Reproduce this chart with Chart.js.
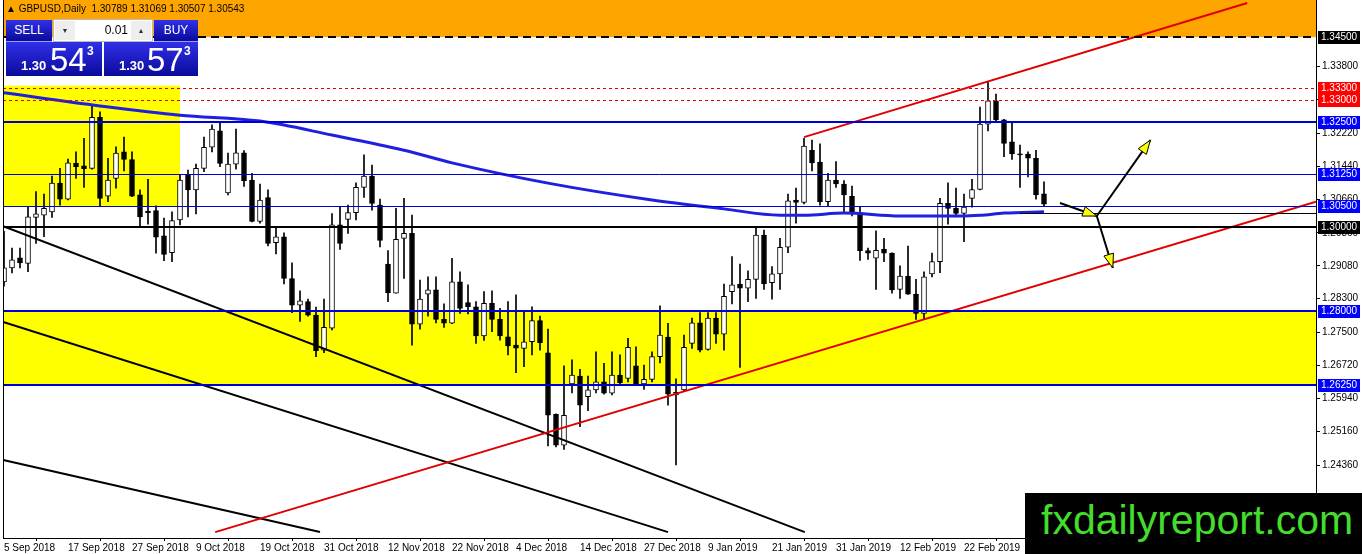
<!DOCTYPE html>
<html>
<head>
<meta charset="utf-8">
<script src="https://cdn.jsdelivr.net/npm/chart.js@4.4.1/dist/chart.umd.min.js"></script>
<style>
  body { margin: 0; background: #fff; }
  #wrap { position: relative; width: 1362px; height: 554px; overflow: hidden; }
  #c { position: absolute; left: 0; top: 0; }
  .hdr { position: absolute; left: 6px; top: 3px; font: 10px 'Liberation Sans', sans-serif; color: #000; white-space: nowrap; }
  .blue { position: absolute; background: linear-gradient(#3030e8, #0a0a9a); color: #fff; font-family: 'Liberation Sans', sans-serif; }
  .btn { font-size: 12px; text-align: center; line-height: 21px; height: 22px; border-bottom: 1px solid #9a9aff; box-sizing: border-box; }
  .spin { position: absolute; left: 53px; top: 19px; width: 100px; height: 23px; background: #fff; border: 1px solid #bbb; box-sizing: border-box; font: 12px 'Liberation Sans', sans-serif; }
  .spin .a { position: absolute; top: 1px; width: 20px; height: 19px; background: #eee; font-size: 7px; text-align: center; line-height: 19px; color: #333; }
  .price { height: 34px; top: 42px; }
  .price .s { position: absolute; top: 16px; font-size: 13px; font-weight: bold; }
  .price .b { position: absolute; top: -1px; font-size: 33px; }
  .price .p { position: absolute; top: 2px; font-size: 12px; font-weight: bold; }
  .wm { position: absolute; left: 1025px; top: 493px; width: 337px; height: 61px; background: #000; }
  .wm span { position: absolute; left: 16px; top: 7px; font: 41px/41px 'Liberation Sans', sans-serif; color: #44dd2c; white-space: nowrap; }
</style>
</head>
<body>
<div id="wrap">
  <canvas id="c" width="1362" height="554"></canvas>
  <div class="hdr">▲ GBPUSD,Daily&nbsp; 1.30789 1.31069 1.30507 1.30543</div>
  <div class="blue btn" style="left:6px;top:20px;width:46px;">SELL</div>
  <div class="spin">
    <div class="a" style="left:1px;">▼</div>
    <div style="position:absolute;right:24px;top:3px;">0.01</div>
    <div class="a" style="right:1px;">▲</div>
  </div>
  <div class="blue btn" style="left:154px;top:20px;width:44px;">BUY</div>
  <div class="blue price" style="left:6px;width:96px;">
    <span class="s" style="left:15px;">1.30</span><span class="b" style="left:44px;">54</span><span class="p" style="left:81px;">3</span>
  </div>
  <div class="blue price" style="left:104px;width:94px;">
    <span class="s" style="left:15px;">1.30</span><span class="b" style="left:43px;">57</span><span class="p" style="left:80px;">3</span>
  </div>
  <div class="wm"><span>fxdailyreport.com</span></div>
</div>
<script>
// daily candles, index 0 = 5 Sep 2018
let opens = [1.2870,1.2903,1.2927,1.2914,1.3023,1.3028,1.3036,1.3104,1.3066,1.3151,
  1.3145,1.3139,1.3260,1.3073,1.3115,1.3178,1.3160,1.3076,1.3038,1.3039,
  1.2979,1.2939,1.3017,1.3123,1.3088,1.3139,1.3189,1.3228,1.3081,1.3149,
  1.3176,1.3111,1.3013,1.3070,1.2963,1.2977,1.2878,1.2815,1.2823,1.2791,
  1.2708,1.2760,1.3005,1.3018,1.3034,1.3094,1.3121,1.3052,1.2912,1.2843,
  1.2973,1.2985,1.2770,1.2841,1.2851,1.2781,1.2772,1.2870,1.2821,1.2811,
  1.2742,1.2819,1.2781,1.2740,1.2720,1.2712,1.2728,1.2778,1.2702,1.2556,
  1.2483,1.2628,1.2647,1.2598,1.2614,1.2633,1.2606,1.2649,1.2641,1.2671,
  1.2628,1.2639,1.2693,1.2739,1.2602,1.2614,1.2724,1.2773,1.2710,1.2784,
  1.2746,1.2847,1.2865,1.2855,1.2876,1.2981,1.2868,1.2889,1.2952,1.3064,
  1.3058,1.3182,1.3154,1.3060,1.3111,1.3102,1.3073,1.3034,1.2944,1.2926,
  1.2947,1.2938,1.2852,1.2884,1.2841,1.2795,1.2889,1.2918,1.3056,1.3044,
  1.3032,1.3068,1.3089,1.3244,1.3299,1.3254,1.3202,1.3173,1.3173,1.3163,
  1.30789];
let highs = [1.2990,1.2950,1.2950,1.3048,1.3084,1.3078,1.3121,1.3139,1.3161,1.3178,
  1.3210,1.3289,1.3273,1.3163,1.3190,1.3213,1.3178,1.3088,1.3113,1.3050,
  1.3021,1.3036,1.3123,1.3135,1.3149,1.3213,1.3242,1.3250,1.3175,1.3232,
  1.3181,1.3127,1.3102,1.3088,1.3001,1.2986,1.2915,1.2849,1.2829,1.2810,
  1.2829,1.3032,1.3048,1.3052,1.3105,1.3171,1.3147,1.3066,1.2944,1.3044,
  1.3068,1.3028,1.2874,1.2882,1.2882,1.2818,1.2926,1.2894,1.2863,1.2823,
  1.2847,1.2849,1.2807,1.2823,1.2839,1.2799,1.2811,1.2789,1.2758,1.2557,
  1.2671,1.2685,1.2663,1.2647,1.2704,1.2677,1.2704,1.2697,1.2736,1.2716,
  1.2673,1.2704,1.2813,1.2772,1.2640,1.2744,1.2784,1.2797,1.2797,1.2797,
  1.2865,1.2930,1.2912,1.2896,1.2999,1.2993,1.2906,1.2973,1.3078,1.3092,
  1.3210,1.3206,1.3197,1.3127,1.3155,1.3110,1.3097,1.3048,1.2950,1.2991,
  1.2973,1.2939,1.2908,1.2955,1.2876,1.2894,1.2938,1.3068,1.3105,1.3092,
  1.3078,1.3113,1.3284,1.3344,1.3315,1.3255,1.3246,1.3194,1.3178,1.3182,
  1.31069];
let lows = [1.2860,1.2891,1.2903,1.2894,1.2961,1.2977,1.3023,1.3052,1.3064,1.3115,
  1.3094,1.3137,1.3050,1.3060,1.3092,1.3133,1.3072,1.3001,1.3007,1.2938,
  1.2920,1.2918,1.3005,1.3024,1.3031,1.3131,1.3178,1.3143,1.3076,1.3137,
  1.3096,1.3012,1.3009,1.2955,1.2936,1.2865,1.2797,1.2776,1.2789,1.2693,
  1.2702,1.2756,1.2947,1.2985,1.3017,1.3070,1.3040,1.2953,1.2823,1.2843,
  1.2878,1.2720,1.2758,1.2789,1.2773,1.2762,1.2771,1.2795,1.2794,1.2724,
  1.2731,1.2752,1.2732,1.2697,1.2655,1.2669,1.2697,1.2708,1.2481,1.2479,
  1.2473,1.2607,1.2527,1.2565,1.2607,1.2604,1.2602,1.2629,1.2633,1.2627,
  1.2615,1.2633,1.2678,1.2578,1.2436,1.2612,1.2712,1.2704,1.2708,1.2724,
  1.2708,1.2818,1.2667,1.2823,1.2831,1.2852,1.2829,1.2852,1.2939,1.3009,
  1.3055,1.3133,1.3052,1.3050,1.3094,1.3036,1.3026,1.2921,1.2923,1.2852,
  1.2918,1.2843,1.2831,1.2840,1.2781,1.2781,1.2882,1.2892,1.3007,1.3024,
  1.2965,1.3047,1.3088,1.3228,1.3247,1.3167,1.3160,1.3094,1.3119,1.3066,
  1.30507];
let closes = [1.2903,1.2922,1.2915,1.3024,1.3031,1.3044,1.3104,1.3066,1.3152,1.3143,
  1.3138,1.3260,1.3068,1.3111,1.3175,1.3160,1.3073,1.3024,1.3034,1.2976,
  1.2935,1.3015,1.3111,1.3088,1.3139,1.3189,1.3232,1.3151,1.3149,1.3176,
  1.3110,1.3013,1.3064,1.2961,1.2977,1.2878,1.2815,1.2825,1.2791,1.2707,
  1.2762,1.3005,1.2961,1.3034,1.3094,1.3121,1.3056,1.2968,1.2844,1.2971,
  1.2985,1.2770,1.2829,1.2851,1.2781,1.2772,1.2870,1.2807,1.2811,1.2742,
  1.2819,1.2781,1.2742,1.2718,1.2713,1.2728,1.2778,1.2726,1.2554,1.2483,
  1.2554,1.2649,1.2578,1.2614,1.2633,1.2606,1.2649,1.2631,1.2715,1.2628,
  1.2639,1.2693,1.2744,1.2604,1.2608,1.2715,1.2773,1.2708,1.2784,1.2746,
  1.2836,1.2863,1.2855,1.2876,1.2981,1.2865,1.2889,1.2952,1.3062,1.3058,
  1.3192,1.3152,1.3060,1.3111,1.3102,1.3076,1.3036,1.2944,1.2938,1.2945,
  1.2938,1.2851,1.2884,1.2841,1.2795,1.2882,1.2918,1.3056,1.3044,1.3032,
  1.3047,1.3089,1.3244,1.3299,1.3254,1.3198,1.3173,1.3171,1.3163,1.3076,
  1.30543];

// moving average, read at a few bars
let maIdx = [0,12,22,32,41,50,56,68,81,90,97,100,105,112,118,122,125,130];
let maVals = [1.3318,1.3287,1.3265,1.3251,1.3218,1.3182,1.3152,1.3104,1.3064,1.3043,
  1.3028,1.3028,1.3033,1.3026,1.3026,1.3028,1.3033,1.3036];

// x axis dates
let dateIdx = [0,8,16,24,32,40,48,56,64,72,80,88,96,104,112,120];
let dateLabels = ['5 Sep 2018','17 Sep 2018','27 Sep 2018','9 Oct 2018','19 Oct 2018',
  '31 Oct 2018','12 Nov 2018','22 Nov 2018','4 Dec 2018','14 Dec 2018','27 Dec 2018',
  '9 Jan 2019','21 Jan 2019','31 Jan 2019','12 Feb 2019','22 Feb 2019'];

// price axis
let tickLabels = [1.338,1.3302,1.3222,1.3144,1.3066,1.2986,1.2908,1.283,1.275,
  1.2672,1.2594,1.2516,1.2436,1.2356];

// horizontal levels
let levelPrices = [1.345,1.333,1.330,1.325,1.3125,1.305,1.300,1.280,1.2625];
let levelKinds = ['black','red','red','blue','blue','blue','black','blue','blue'];

// drawn objects
let redUpper = [[100,1.3213],[155.4,1.3531]];
let redLower = [[26.4,1.2277],[164,1.3060]];
let blackLine1 = [[-0.1,1.3002],[100.1,1.2277]];
let blackLine2 = [[-0.1,1.2775],[83,1.2277]];
let blackLine3 = [[-0.1,1.2448],[39.5,1.2277]];
let arrowFrom = [[132,1.3057],[136.6,1.3026],[136.6,1.3026]];
let arrowTo = [[136.6,1.3026],[143.3,1.3206],[138.6,1.2903]];

const X_MIN = -0.125, X_MAX = 164;
const Y_MIN = 1.2263, Y_MAX = 1.3538;

const kindStyle = {
  black: { color: '#000000', label: '#000000' },
  red: { color: '#e00000', label: '#ff0000' },
  blue: { color: '#0000d0', label: '#0000ff' }
};
const lineWidths = [2,1,1,2,1,1,2,2,2];
const lineDash = [[8,5],[3,3],[3,3],[],[],[],[],[],[]];

Chart.defaults.font.family = "'Liberation Sans', sans-serif";
Chart.defaults.font.size = 10;
Chart.defaults.color = '#000';

const pts = (arr) => arr.map(p => ({ x: p[0], y: p[1] }));

const levelsPlugin = {
  id: 'levels',
  beforeDraw(chart) {
    const c = chart.ctx;
    c.save();
    c.fillStyle = '#fff';
    c.fillRect(0, 0, chart.width, chart.height);
    c.restore();
  },
  beforeDatasetsDraw(chart) {
    const c = chart.ctx, a = chart.chartArea;
    const xs = chart.scales.x, ys = chart.scales.y;
    c.save();
    // orange zone above 1.345
    c.fillStyle = '#ffa500';
    c.fillRect(a.left, 0, a.right - a.left, ys.getPixelForValue(levelPrices[0]));
    // yellow zones
    c.fillStyle = '#ffff00';
    let y1 = ys.getPixelForValue(1.3335), y2 = ys.getPixelForValue(1.3050);
    c.fillRect(a.left, y1, xs.getPixelForValue(22) - a.left, y2 - y1);
    y1 = ys.getPixelForValue(levelPrices[7]); y2 = ys.getPixelForValue(levelPrices[8]);
    c.fillRect(a.left, y1, a.right - a.left, y2 - y1);
    c.restore();
  },
  afterDatasetsDraw(chart) {
    const c = chart.ctx, a = chart.chartArea;
    const xs = chart.scales.x, ys = chart.scales.y;
    c.save();
    levelPrices.forEach((p, i) => {
      const y = Math.round(ys.getPixelForValue(p)) + (lineWidths[i] === 1 ? 0.5 : 0);
      c.strokeStyle = kindStyle[levelKinds[i]].color;
      c.lineWidth = lineWidths[i];
      c.setLineDash(lineDash[i]);
      c.beginPath(); c.moveTo(a.left, y); c.lineTo(a.right, y); c.stroke();
    });
    c.setLineDash([]);
    // short black line at the right
    const yb = Math.round(ys.getPixelForValue(1.3033)) + 0.5;
    c.strokeStyle = '#000'; c.lineWidth = 1;
    c.beginPath(); c.moveTo(xs.getPixelForValue(127), yb); c.lineTo(a.right, yb); c.stroke();
    // arrows
    arrowFrom.forEach((f, i) => {
      const x0 = xs.getPixelForValue(f[0]), y0 = ys.getPixelForValue(f[1]);
      const x1 = xs.getPixelForValue(arrowTo[i][0]), y1 = ys.getPixelForValue(arrowTo[i][1]);
      const ang = Math.atan2(y1 - y0, x1 - x0);
      c.strokeStyle = '#000'; c.lineWidth = 2;
      c.beginPath(); c.moveTo(x0, y0); c.lineTo(x1, y1); c.stroke();
      c.beginPath();
      c.moveTo(x1, y1);
      c.lineTo(x1 - 14 * Math.cos(ang) + 5 * Math.sin(ang), y1 - 14 * Math.sin(ang) - 5 * Math.cos(ang));
      c.lineTo(x1 - 14 * Math.cos(ang) - 5 * Math.sin(ang), y1 - 14 * Math.sin(ang) + 5 * Math.cos(ang));
      c.closePath();
      c.fillStyle = '#ffff00'; c.fill();
      c.lineWidth = 1; c.stroke();
    });
    // frame
    c.strokeStyle = '#000'; c.lineWidth = 1;
    c.beginPath();
    c.moveTo(a.left + 0.5, a.top); c.lineTo(a.left + 0.5, a.bottom);
    c.stroke();
    c.restore();
  },
  afterDraw(chart) {
    const c = chart.ctx, a = chart.chartArea, ys = chart.scales.y;
    c.save();
    c.font = "10px 'Liberation Sans', sans-serif";
    c.textBaseline = 'middle';
    levelPrices.forEach((p, i) => {
      const y = Math.round(ys.getPixelForValue(p));
      c.fillStyle = kindStyle[levelKinds[i]].label;
      c.fillRect(a.right + 2, y - 6, 42, 13);
      c.fillStyle = '#fff';
      c.fillText(p.toFixed(5), a.right + 5, y + 0.5);
    });
    c.restore();
  }
};

const bodyColors = opens.map((o, i) => closes[i] >= o ? '#ffffff' : '#000000');

new Chart(document.getElementById('c'), {
  type: 'bar',
  data: {
    datasets: [
      { type: 'line', data: pts(redUpper), borderColor: '#e00000', borderWidth: 2, pointRadius: 0, order: 0 },
      { type: 'line', data: pts(redLower), borderColor: '#e00000', borderWidth: 2, pointRadius: 0, order: 0 },
      { type: 'line', data: pts(blackLine1), borderColor: '#000', borderWidth: 2, pointRadius: 0, order: 0 },
      { type: 'line', data: pts(blackLine2), borderColor: '#000', borderWidth: 2, pointRadius: 0, order: 0 },
      { type: 'line', data: pts(blackLine3), borderColor: '#000', borderWidth: 2, pointRadius: 0, order: 0 },
      { type: 'line', data: maIdx.map((v, i) => ({ x: v, y: maVals[i] })), borderColor: '#1f1fe0',
        borderWidth: 3, pointRadius: 0, cubicInterpolationMode: 'monotone', order: 1 },
      { data: opens.map((o, i) => ({ x: i, y: [o, closes[i]] })), backgroundColor: bodyColors,
        borderColor: '#000', borderWidth: 1, borderSkipped: false, barThickness: 5,
        minBarLength: 1, grouped: false, order: 2 },
      { data: lows.map((l, i) => ({ x: i, y: [l, highs[i]] })), backgroundColor: '#000',
        borderWidth: 0, barThickness: 1, grouped: false, order: 3 }
    ]
  },
  options: {
    responsive: false,
    animation: false,
    devicePixelRatio: 1,
    layout: { padding: { left: 3, top: 0, right: 0, bottom: 0 } },
    plugins: { legend: { display: false }, tooltip: { enabled: false } },
    scales: {
      x: {
        type: 'linear', min: X_MIN, max: X_MAX, offset: false,
        afterBuildTicks: (s) => { s.ticks = dateIdx.map(v => ({ value: v })); },
        afterFit: (s) => { s.height = 16; s.paddingLeft = 0; s.paddingRight = 0; },
        ticks: { autoSkip: false, maxRotation: 0, align: 'start', padding: 1,
          callback: (v, i) => dateLabels[i] },
        grid: { drawOnChartArea: false, tickLength: 3, tickColor: '#000' },
        border: { display: true, color: '#000' }
      },
      y: {
        position: 'right', min: Y_MIN, max: Y_MAX,
        afterBuildTicks: (s) => { s.ticks = tickLabels.map(v => ({ value: v })); },
        afterFit: (s) => { s.width = 46; s.paddingTop = 0; s.paddingBottom = 0; },
        ticks: { padding: 2, callback: (v) => v.toFixed(5) },
        grid: { drawOnChartArea: false, tickLength: 4, tickColor: '#000' },
        border: { display: true, color: '#000' }
      }
    }
  },
  plugins: [levelsPlugin]
});
</script>
</body>
</html>
